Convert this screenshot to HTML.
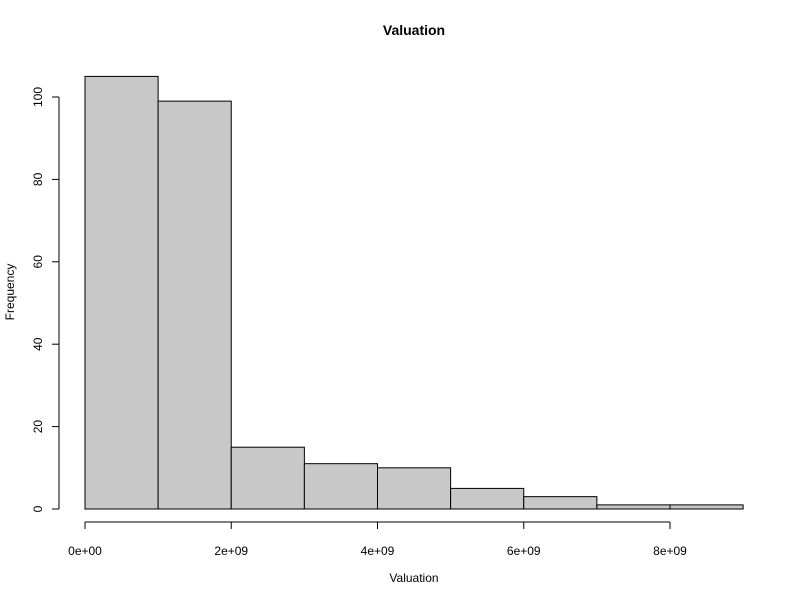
<!DOCTYPE html>
<html><head><meta charset="utf-8"><style>body{margin:0;background:#fff}svg{display:block;font-family:"Liberation Sans",Arial,sans-serif}</style></head>
<body>
<svg id="chart" width="800" height="600">
<text x="414" y="35" text-anchor="middle" font-weight="bold" font-size="14">Valuation</text>
<text x="414" y="582" text-anchor="middle" font-size="12">Valuation</text>
<text transform="translate(14,292) rotate(-90)" text-anchor="middle" font-size="12">Frequency</text>
<g id="bars"></g><g id="axes"></g>
</svg>
<script>
const binStarts=[0,1e9,2e9,3e9,4e9,5e9,6e9,7e9,8e9];
const binWidth=1e9;
const counts=[105,99,15,11,10,5,3,1,1];
const xTicks=[0,2e9,4e9,6e9,8e9];
const xTickLabels=["0e+00","2e+09","4e+09","6e+09","8e+09"];
const yTicks=[0,20,40,60,80,100];
const NS="http://www.w3.org/2000/svg";
const sx=v=>85+v*(670-85)/8e9;
const sy=v=>509-v*(509-97)/100;
function mk(t,a,p){const e=document.createElementNS(NS,t);for(const k in a)e.setAttribute(k,a[k]);p.appendChild(e);return e;}
const bars=document.getElementById('bars'),axes=document.getElementById('axes');
counts.forEach((c,i)=>{const x0=sx(binStarts[i]),x1=sx(binStarts[i]+binWidth);
const r=mk('rect',{x:x0,y:sy(c),width:x1-x0,height:sy(0)-sy(c),fill:'#c8c8c8',stroke:'#000','stroke-width':1},bars);

});
const xl=mk('line',{x1:sx(xTicks[0]),x2:sx(xTicks[xTicks.length-1]),y1:522,y2:522,stroke:'#000'},axes);


xTicks.forEach((t,i)=>{mk('line',{x1:sx(t),x2:sx(t),y1:522,y2:529,stroke:'#000'},axes);
const tx=mk('text',{x:sx(t),y:555,'text-anchor':'middle','font-size':12},axes);tx.textContent=xTickLabels[i];

});
const yl=mk('line',{x1:59,x2:59,y1:sy(yTicks[0]),y2:sy(yTicks[yTicks.length-1]),stroke:'#000'},axes);


yTicks.forEach(t=>{mk('line',{x1:52,x2:59,y1:sy(t),y2:sy(t),stroke:'#000'},axes);
const tx=mk('text',{transform:`translate(42,${sy(t)}) rotate(-90)`,'text-anchor':'middle','font-size':12},axes);tx.textContent=t;

});
</script>
</body></html>
